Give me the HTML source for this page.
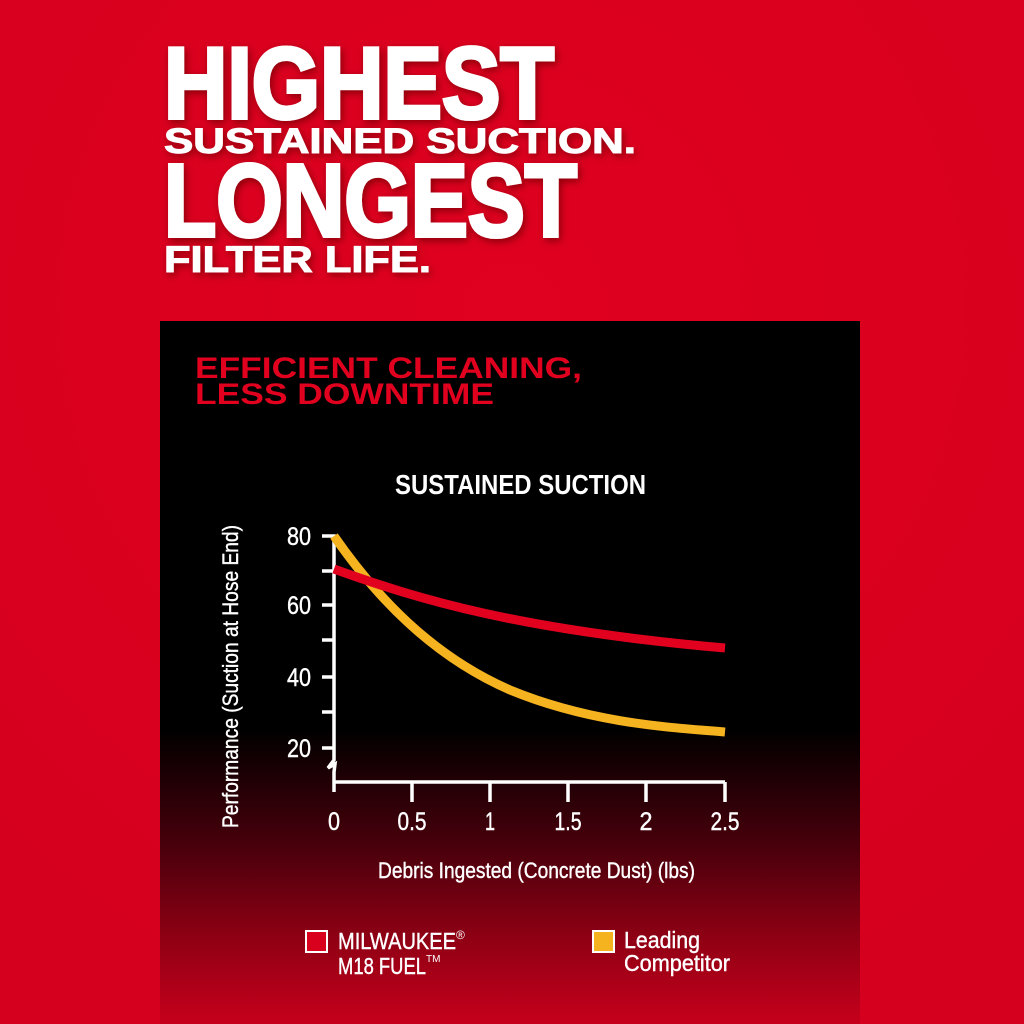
<!DOCTYPE html>
<html><head><meta charset="utf-8"><style>
html,body{margin:0;padding:0;}
body{width:1024px;height:1024px;overflow:hidden;background:#da0020;}
svg{display:block}
</style></head><body>
<svg width="1024" height="1024" viewBox="0 0 1024 1024" xmlns="http://www.w3.org/2000/svg">
<defs>
<radialGradient id="bg" cx="0.5" cy="0.3" r="0.8">
<stop offset="0" stop-color="#e0001f"/><stop offset="1" stop-color="#d4001e"/>
</radialGradient>
<linearGradient id="pn" x1="0" y1="0" x2="0" y2="1">
<stop offset="0" stop-color="#000"/>
<stop offset="0.58" stop-color="#000"/>
<stop offset="0.75" stop-color="#4a000c"/>
<stop offset="0.88" stop-color="#900014"/>
<stop offset="1" stop-color="#c6001c"/>
</linearGradient>
<filter id="sh" x="-10%" y="-20%" width="120%" height="140%">
<feDropShadow dx="2" dy="3" stdDeviation="4" flood-color="#600" flood-opacity="0.7"/>
</filter>
</defs>
<rect width="1024" height="1024" fill="url(#bg)"/>
<rect x="160" y="321" width="700" height="703" fill="url(#pn)"/>
<g font-family="Liberation Sans, sans-serif" font-weight="bold" fill="#fff" stroke="#fff" filter="url(#sh)">
<text x="164" y="118" font-size="101" stroke-width="4" textLength="390" lengthAdjust="spacingAndGlyphs">HIGHEST</text>
<text x="164" y="153" font-size="35" stroke-width="1" textLength="472" lengthAdjust="spacingAndGlyphs">SUSTAINED SUCTION.</text>
<text x="164" y="236" font-size="103" stroke-width="4" textLength="413" lengthAdjust="spacingAndGlyphs">LONGEST</text>
<text x="164" y="272" font-size="37" stroke-width="1" textLength="267" lengthAdjust="spacingAndGlyphs">FILTER LIFE.</text>
</g>
<g font-family="Liberation Sans, sans-serif" font-weight="bold" fill="#e2001f">
<text x="195" y="378" font-size="30" textLength="387" lengthAdjust="spacingAndGlyphs">EFFICIENT CLEANING,</text>
<text x="195" y="404" font-size="30" textLength="299" lengthAdjust="spacingAndGlyphs">LESS DOWNTIME</text>
</g>
<text x="395" y="494" font-family="Liberation Sans, sans-serif" font-weight="bold" font-size="28" fill="#fff" textLength="251" lengthAdjust="spacingAndGlyphs">SUSTAINED SUCTION</text>
<g font-family="Liberation Sans, sans-serif" fill="#fff" stroke="#fff" stroke-width="0.4" font-size="22">
<text transform="translate(238,828) rotate(-90)" textLength="303" lengthAdjust="spacingAndGlyphs">Performance (Suction at Hose End)</text>
<text x="378" y="878" textLength="317" lengthAdjust="spacingAndGlyphs">Debris Ingested (Concrete Dust) (lbs)</text>
<g text-anchor="end" font-size="25">
<text x="311" y="545" textLength="24" lengthAdjust="spacingAndGlyphs">80</text>
<text x="311" y="614" textLength="24" lengthAdjust="spacingAndGlyphs">60</text>
<text x="311" y="686" textLength="24" lengthAdjust="spacingAndGlyphs">40</text>
<text x="311" y="757" textLength="24" lengthAdjust="spacingAndGlyphs">20</text>
</g>
<g text-anchor="middle" font-size="25">
<text x="334" y="830" textLength="12" lengthAdjust="spacingAndGlyphs">0</text>
<text x="412" y="830" textLength="29" lengthAdjust="spacingAndGlyphs">0.5</text>
<text x="490" y="830" textLength="10" lengthAdjust="spacingAndGlyphs">1</text>
<text x="568" y="830" textLength="27" lengthAdjust="spacingAndGlyphs">1.5</text>
<text x="646" y="830" textLength="13" lengthAdjust="spacingAndGlyphs">2</text>
<text x="725" y="830" textLength="29" lengthAdjust="spacingAndGlyphs">2.5</text>
</g>
</g>
<g stroke="#fff" stroke-width="3.5" fill="none">
<path d="M322,536 H334 V760 L328,768 L335,764 L334,772 V792"/>
<path d="M322,571H334M322,605H334M322,640H334M322,677H334M322,712H334M322,748H334"/>
<path d="M334,782 H725 M412,782V802 M490,782V802 M568,782V802 M646,782V802 M725,782V802"/>
</g>
<path d="M334,536 C375,595 430,655 510,690 C595,725 680,728 725,732" stroke="#f5b320" stroke-width="9" fill="none"/>
<path d="M334,569 C420,600 520,630 725,648" stroke="#e2001f" stroke-width="9" fill="none"/>
<rect x="306" y="931" width="21" height="21" fill="#d8001c" stroke="#fff" stroke-width="2"/>
<rect x="593" y="931" width="21" height="21" fill="#f5b320" stroke="#fff" stroke-width="2"/>
<g font-family="Liberation Sans, sans-serif" fill="#fff" stroke="#fff" stroke-width="0.4" font-size="23">
<text x="338" y="949" textLength="118" lengthAdjust="spacingAndGlyphs">MILWAUKEE</text>
<text x="456" y="939" font-size="12" stroke-width="0">®</text>
<text x="338" y="974" textLength="88" lengthAdjust="spacingAndGlyphs">M18 FUEL</text>
<text x="426" y="962" font-size="10" stroke-width="0">TM</text>
<text x="624" y="948" textLength="76" lengthAdjust="spacingAndGlyphs">Leading</text>
<text x="624" y="971" textLength="106" lengthAdjust="spacingAndGlyphs">Competitor</text>
</g>
</svg>
</body></html>
